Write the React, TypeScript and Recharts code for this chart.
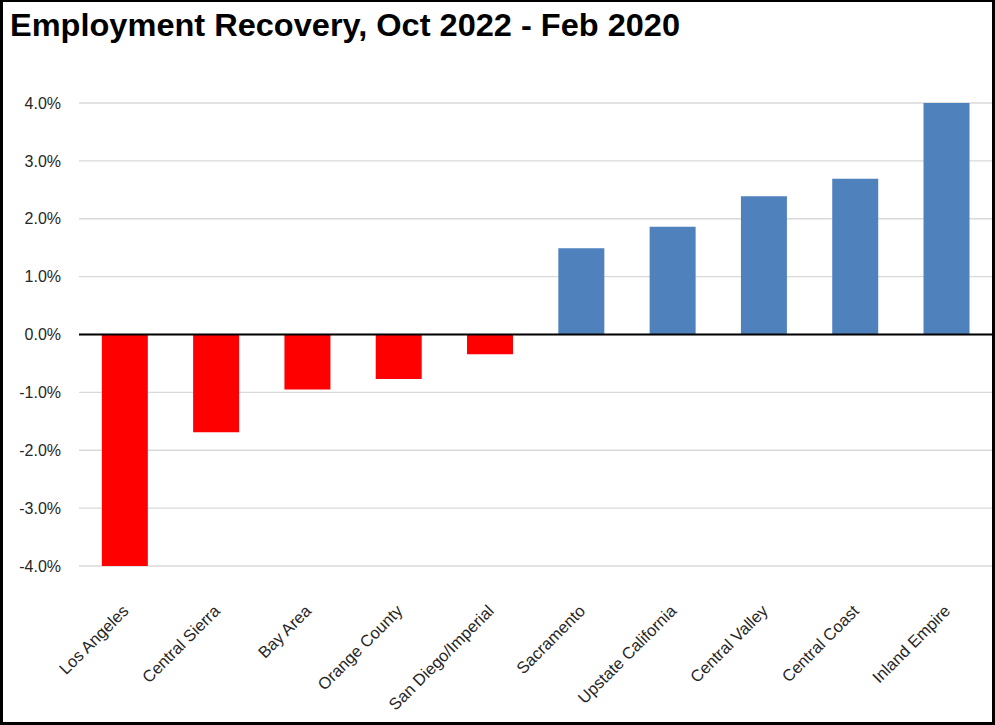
import React from "react";
import {
  BarChart,
  Bar,
  Cell,
  XAxis,
  YAxis,
  CartesianGrid,
  ReferenceLine,
} from "recharts";

const regions = [
  "Los Angeles",
  "Central Sierra",
  "Bay Area",
  "Orange County",
  "San Diego/Imperial",
  "Sacramento",
  "Upstate California",
  "Central Valley",
  "Central Coast",
  "Inland Empire",
];

// percent change in employment, Oct 2022 vs Feb 2020
const recovery = [-4.0, -1.69, -0.95, -0.77, -0.34, 1.49, 1.86, 2.39, 2.69, 4.0];

const yTicks = [-4, -3, -2, -1, 0, 1, 2, 3, 4];

const data = regions.map((name, i) => ({ name, value: recovery[i] }));

const FONT = "'Liberation Sans', Arial, sans-serif";

function CategoryTick(props: any) {
  const { x, y, payload } = props;
  const ax = x + 5;
  const ay = y + 46;
  return (
    <text
      x={ax}
      y={ay}
      transform={`rotate(-45 ${ax} ${ay})`}
      textAnchor="end"
      fontSize={16.5}
      fontFamily={FONT}
      fill="#262626"
    >
      {payload.value}
    </text>
  );
}

export default function App() {
  return (
    <div
      style={{
        position: "absolute",
        left: 0,
        top: 0,
        width: 995,
        height: 725,
        background: "#fff",
      }}
    >
      <svg
        width={995}
        height={60}
        style={{ position: "absolute", left: 0, top: 0 }}
      >
        <text
          x={10}
          y={36}
          fontSize={31}
          fontWeight="bold"
          fontFamily={FONT}
          fill="#000"
          textLength={670}
          lengthAdjust="spacingAndGlyphs"
        >
          Employment Recovery, Oct 2022 - Feb 2020
        </text>
      </svg>
      <div style={{ position: "absolute", left: 0, top: 0 }}>
        <BarChart
          width={995}
          height={725}
          data={data}
          margin={{ top: 103, right: 3, bottom: 9, left: 0 }}
          barCategoryGap="25%"
        >
          <CartesianGrid vertical={false} stroke="#D9D9D9" strokeWidth={1.3} />
          <XAxis
            dataKey="name"
            axisLine={false}
            tickLine={false}
            tickSize={0}
            tickMargin={0}
            interval={0}
            height={150}
            tick={<CategoryTick />}
          />
          <YAxis
            domain={[-4, 4]}
            ticks={yTicks}
            axisLine={false}
            tickLine={false}
            tickSize={0}
            tickMargin={18}
            width={79}
            tickFormatter={(v: number) => v.toFixed(1) + "%"}
            tick={{ fill: "#262626", fontSize: 16, fontFamily: FONT }}
          />
          <Bar dataKey="value" isAnimationActive={false}>
            {data.map((d) => (
              <Cell key={d.name} fill={d.value < 0 ? "#FF0000" : "#4F81BD"} />
            ))}
          </Bar>
          <ReferenceLine y={0} stroke="#000" strokeWidth={2} />
        </BarChart>
      </div>
      <div
        style={{
          position: "absolute",
          left: 0,
          top: 0,
          width: 995,
          height: 725,
          boxSizing: "border-box",
          borderStyle: "solid",
          borderColor: "#000",
          borderWidth: "2px 3px 3px 3px",
          pointerEvents: "none",
        }}
      />
    </div>
  );
}
